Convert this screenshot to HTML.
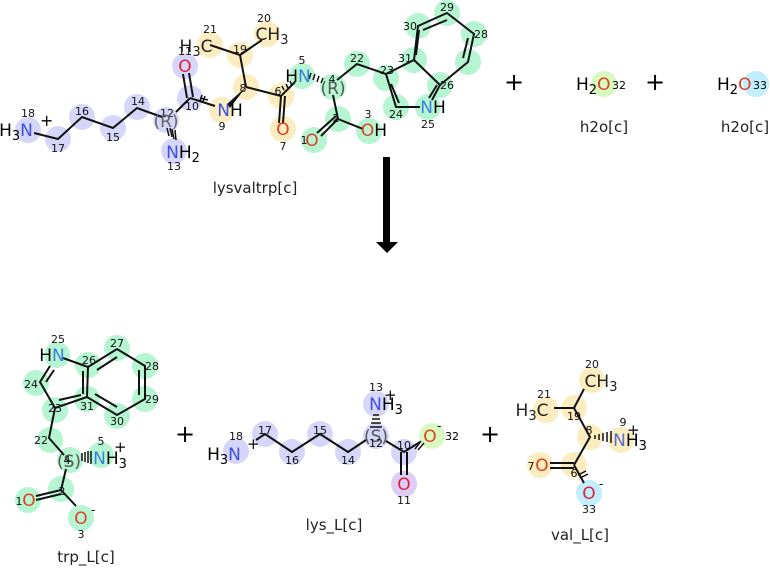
<!DOCTYPE html>
<html><head><meta charset="utf-8"><style>
html,body{margin:0;padding:0;background:#fff}
svg{display:block;font-family:"DejaVu Sans","Liberation Sans",sans-serif}
.b{fill:#d6d6fa}.y{fill:#fcedc0}.g{fill:#b6f5d2}.l{fill:#d8fac0}.c{fill:#c0eefc}
.n{font-size:11px;fill:#111;text-anchor:middle}
.a{font-size:17px;text-anchor:middle}
.k{stroke:#111;stroke-width:2;fill:none}
.lab{font-size:15px;fill:#222;text-anchor:middle}
.p{font-size:24px;fill:#000;text-anchor:middle}
</style></head><body>
<svg width="770" height="568" viewBox="0 0 770 568" xmlns="http://www.w3.org/2000/svg">
<g class="b"><circle cx="28" cy="130" r="13"/><circle cx="58" cy="139" r="13"/><circle cx="82" cy="117" r="13"/><circle cx="113" cy="128" r="13"/><circle cx="137" cy="107" r="13"/><circle cx="166" cy="120" r="13"/><circle cx="174" cy="151" r="13"/><circle cx="190" cy="98" r="13"/><circle cx="185" cy="66" r="13"/></g>
<g class="y"><circle cx="222" cy="110" r="13"/><circle cx="246" cy="87" r="13"/><circle cx="240" cy="55" r="13"/><circle cx="210" cy="45" r="13"/><circle cx="267" cy="34" r="13"/><circle cx="281" cy="96" r="13"/><circle cx="283" cy="129" r="13"/></g>
<g class="g"><circle cx="302" cy="76" r="13"/><circle cx="333" cy="87" r="13"/><circle cx="357" cy="64" r="13"/><circle cx="386" cy="78" r="13"/><circle cx="396" cy="107" r="13"/><circle cx="428" cy="107" r="13"/><circle cx="440" cy="85" r="13"/><circle cx="414" cy="60" r="13"/><circle cx="418" cy="26" r="13"/><circle cx="447" cy="13" r="13"/><circle cx="474" cy="34" r="13"/><circle cx="468" cy="62" r="13"/><circle cx="338" cy="119" r="13"/><circle cx="314" cy="140" r="13"/><circle cx="369" cy="131" r="13"/></g>
<g class="k">
<path d="M34 133 L58 139 L82 117 L113 128 L137 108 L162 117"/>
<path d="M176 112 L190 98"/>
<path d="M187 98 L183 74 M193 97 L189 73"/>
<path d="M190 98 L215 106"/>
<path d="M246 87 L240 55 L210 45 M240 55 L262 40 M246 87 L281 96 L295 82 M281 96 L279 123 M285 96 L283 123"/>
<path d="M333 95 L338 119 L321 136 M336 116 L317 133 M338 119 L363 129"/>
<path d="M337 80 L357 64 L386 74 L396 107 L420 107 M391 84 L399 103"/>
<path d="M386 74 L414 60 L440 85 L432 100 M437 85 L429 98"/>
<path d="M414 60 L418 26 L447 13 L474 34 L468 62 L440 85 M423 30 L447 20 M468 38 L463 58 M419 30 L416 55"/>
</g>
<path d="M227 104 L246 87 L230 108 Z" fill="#111"/>
<g stroke="#111" stroke-width="1.5">
<path d="M167 128 L169 136 M170 128 L172 137 M172 129 L174 139 M175 130 L176 140"/>
<path d="M286 84 L288 88 M290 81 L292 86 M282 86 L284 90"/>
<path d="M200 101 L202 95 M203 102 L205 96 M200 98 L208 100"/>
<path d="M309 79 L311 73 M313 80 L315 74 M317 82 L319 76 M321 83 L323 78"/>
</g>
<text x="16" y="136" class="a" fill="#000">H<tspan font-size="13" dy="4">3</tspan><tspan fill="#3a50e0" dy="-4">N</tspan></text><text x="40" y="126" font-size="16">+</text>
<text x="28" y="117" class="n">18</text><text x="58" y="152" class="n">17</text><text x="82" y="115" class="n">16</text><text x="113" y="141" class="n">15</text><text x="138" y="105" class="n">14</text><text x="167" y="117" class="n">12</text>
<text x="166" y="127" class="a" fill="#666" font-size="15">(R)</text>
<text x="183" y="158" class="a"><tspan fill="#3a50e0">N</tspan>H<tspan font-size="13" dy="4">2</tspan></text><text x="174" y="170" class="n">13</text>
<text x="185" y="72" class="a" fill="#e0203a">O</text><text x="185" y="55" class="n">11</text>
<text x="192" y="110" class="n">10</text>
<text x="230" y="116" class="a"><tspan fill="#3a50e0">N</tspan>H</text><text x="222" y="130" class="n">9</text>
<text x="243" y="92" class="n">8</text><text x="240" y="53" class="n">19</text>
<text x="196" y="52" class="a" fill="#222">H<tspan font-size="13" dy="4">3</tspan><tspan dy="-4">C</tspan></text><text x="210" y="33" class="n">21</text>
<text x="272" y="40" class="a" fill="#222">CH<tspan font-size="13" dy="4">3</tspan></text><text x="264" y="22" class="n">20</text>
<text x="278" y="95" class="n">6</text>
<text x="283" y="135" class="a" fill="#e04020">O</text><text x="283" y="150" class="n">7</text>
<text x="298" y="82" class="a"><tspan fill="#000">H</tspan><tspan fill="#3a80e0">N</tspan></text><text x="302" y="64" class="n">5</text>
<text x="332" y="83" class="n">4</text><text x="333" y="94" class="a" fill="#555" font-size="15">(R)</text>
<text x="357" y="62" class="n">22</text><text x="387" y="74" class="n">23</text><text x="396" y="118" class="n">24</text>
<text x="433" y="113" class="a"><tspan fill="#3a80e0">N</tspan>H</text><text x="428" y="128" class="n">25</text>
<text x="447" y="89" class="n">26</text><text x="405" y="62" class="n">31</text><text x="410" y="30" class="n">30</text><text x="447" y="11" class="n">29</text><text x="481" y="38" class="n">28</text>
<text x="336" y="122" class="n">2</text>
<text x="312" y="146" class="a" fill="#e04020">O</text><text x="304" y="144" class="n">1</text>
<text x="374" y="136" class="a"><tspan fill="#e04020">O</tspan>H</text><text x="368" y="118" class="n">3</text>
<text x="255" y="193" class="lab">lysvaltrp[c]</text>
<text x="514" y="90" class="p">+</text><text x="655" y="90" class="p">+</text>
<circle cx="604" cy="84" r="13" class="l"/><circle cx="756" cy="84" r="13" class="c"/>
<text x="576" y="90" font-size="17" fill="#000">H<tspan font-size="13" dy="4">2</tspan><tspan dy="-4" fill="#e04020">O</tspan></text><text x="612" y="89" font-size="11">32</text>
<text x="717" y="90" font-size="17" fill="#000">H<tspan font-size="13" dy="4">2</tspan><tspan dy="-4" fill="#e04020">O</tspan></text><text x="753" y="89" font-size="11">33</text>
<text x="604" y="132" class="lab">h2o[c]</text><text x="745" y="132" class="lab">h2o[c]</text>
<rect x="383" y="157" width="7" height="86" fill="#000"/><path d="M376 242 L398 242 L387 253 Z" fill="#000"/>
<g class="g"><circle cx="57" cy="355" r="13"/><circle cx="88" cy="365" r="13"/><circle cx="117" cy="348" r="13"/><circle cx="145" cy="366" r="13"/><circle cx="145" cy="399" r="13"/><circle cx="117" cy="416" r="13"/><circle cx="87" cy="399" r="13"/><circle cx="55" cy="410" r="13"/><circle cx="36" cy="383" r="13"/><circle cx="50" cy="440" r="13"/><circle cx="70" cy="460" r="13"/><circle cx="101" cy="455" r="13"/><circle cx="61" cy="489" r="13"/><circle cx="28" cy="500" r="13"/><circle cx="81" cy="518" r="13"/></g>
<g class="k">
<path d="M63 358 L88 367 L87 397 L55 408 L40 382 L50 366 M83 371 L83 394 M59 400 L81 395 M46 382 L54 370"/>
<path d="M88 367 L117 349 L145 366 L145 399 L117 415 L87 397 M97 370 L117 357 M139 370 L139 395 M117 407 L95 394"/>
<path d="M55 408 L49 438 L64 455 M66 469 L61 490 L36 496 M61 494 L36 500 M61 490 L76 506"/>
</g>
<g stroke="#111" stroke-width="1.5"><path d="M82 453 L82 461 M85 452 L85 462 M88 451 L88 463 M91 451 L91 464"/></g>
<text x="52" y="361" class="a"><tspan fill="#000">H</tspan><tspan fill="#3a80e0">N</tspan></text><text x="58" y="343" class="n">25</text>
<text x="89" y="364" class="n">26</text><text x="117" y="347" class="n">27</text><text x="152" y="370" class="n">28</text><text x="152" y="403" class="n">29</text><text x="117" y="425" class="n">30</text><text x="87" y="410" class="n">31</text>
<text x="31" y="388" class="n">24</text><text x="55" y="412" class="n">23</text><text x="41" y="444" class="n">22</text>
<text x="69" y="467" class="a" fill="#555" font-size="15">(S)</text><text x="67" y="464" class="n">4</text>
<text x="110" y="464" class="a"><tspan fill="#3a80e0">N</tspan>H<tspan font-size="13" dy="4">3</tspan></text><text x="101" y="445" class="n">5</text><text x="114" y="452" font-size="15">+</text>
<text x="62" y="495" class="n">2</text>
<text x="29" y="506" class="a" fill="#e04020">O</text><text x="19" y="505" class="n">1</text>
<text x="81" y="524" class="a" fill="#e04020">O</text><text x="91" y="514" font-size="12">-</text><text x="81" y="538" class="n">3</text>
<text x="86" y="562" class="lab">trp_L[c]</text>
<text x="185" y="442" class="p">+</text>
<g class="b"><circle cx="236" cy="451" r="13"/><circle cx="265" cy="434" r="13"/><circle cx="292" cy="452" r="13"/><circle cx="320" cy="434" r="13"/><circle cx="348" cy="452" r="13"/><circle cx="376" cy="436" r="13"/><circle cx="376" cy="404" r="13"/><circle cx="404" cy="452" r="13"/></g>
<circle cx="404" cy="484" r="13" fill="#dcccf6"/><circle cx="432" cy="436" r="13" class="l"/>
<g class="k"><path d="M256 440 L265 434 L292 452 L320 434 L348 452 L366 440 M386 441 L404 452 L420 442 M401 452 L401 475 M407 452 L407 475"/></g>
<g stroke="#111" stroke-width="1.5"><path d="M373 415 L379 415 M372 419 L380 419 M371 423 L381 423 M370 427 L382 427"/><path d="M415 449 L421 441 M418 450 L424 443"/></g>
<text x="224" y="460" class="a" fill="#000">H<tspan font-size="13" dy="4">3</tspan><tspan fill="#3a50e0" dy="-4">N</tspan></text><text x="247" y="449" font-size="15">+</text><text x="236" y="440" class="n">18</text>
<text x="265" y="434" class="n">17</text><text x="292" y="464" class="n">16</text><text x="320" y="434" class="n">15</text><text x="348" y="464" class="n">14</text>
<text x="376" y="442" class="a" fill="#555" font-size="15">(S)</text><text x="376" y="447" class="n">12</text>
<text x="386" y="410" class="a"><tspan fill="#3a50e0">N</tspan>H<tspan font-size="13" dy="4">3</tspan></text><text x="376" y="391" class="n">13</text><text x="384" y="400" font-size="15">+</text>
<text x="404" y="449" class="n">10</text>
<text x="404" y="490" class="a" fill="#e0203a">O</text><text x="404" y="504" class="n">11</text>
<text x="430" y="442" class="a" fill="#e04020">O</text><text x="445" y="440" font-size="11">32</text><text x="437" y="430" font-size="12">-</text>
<text x="334" y="530" class="lab">lys_L[c]</text>
<text x="490" y="442" class="p">+</text>
<g class="y"><circle cx="592" cy="380" r="13"/><circle cx="546" cy="410" r="13"/><circle cx="574" cy="408" r="13"/><circle cx="590" cy="437" r="13"/><circle cx="621" cy="440" r="13"/><circle cx="574" cy="465" r="13"/><circle cx="540" cy="465" r="13"/></g>
<circle cx="589" cy="493" r="13" class="c"/>
<g class="k"><path d="M584 389 L574 408 L554 408 M574 408 L590 437 L574 465 M574 463 L550 463 M574 468 L550 468 M574 465 L584 483"/></g>
<g stroke="#111" stroke-width="1.5"><path d="M595 435 L595 439 M599 434 L599 440 M603 433 L603 441 M607 432 L607 442 M611 431 L611 443"/></g>
<g stroke="#111" stroke-width="1.5"><path d="M578 475 L586 471 M580 478 L588 474"/></g>
<text x="601" y="387" class="a" fill="#222">CH<tspan font-size="13" dy="4">3</tspan></text><text x="592" y="368" class="n">20</text>
<text x="532" y="416" class="a" fill="#222">H<tspan font-size="13" dy="4">3</tspan><tspan dy="-4">C</tspan></text><text x="544" y="398" class="n">21</text>
<text x="574" y="420" class="n">19</text><text x="589" y="434" class="n">8</text>
<text x="630" y="446" class="a"><tspan fill="#5a6ad0">N</tspan>H<tspan font-size="13" dy="4">3</tspan></text><text x="623" y="426" class="n">9</text><text x="627" y="435" font-size="15">+</text>
<text x="574" y="477" class="n">6</text>
<text x="542" y="471" class="a" fill="#e04020">O</text><text x="531" y="470" class="n">7</text>
<text x="589" y="499" class="a" fill="#e0203a">O</text><text x="599" y="488" font-size="12">-</text><text x="589" y="513" class="n">33</text>
<text x="580" y="540" class="lab">val_L[c]</text>
</svg>
</body></html>
